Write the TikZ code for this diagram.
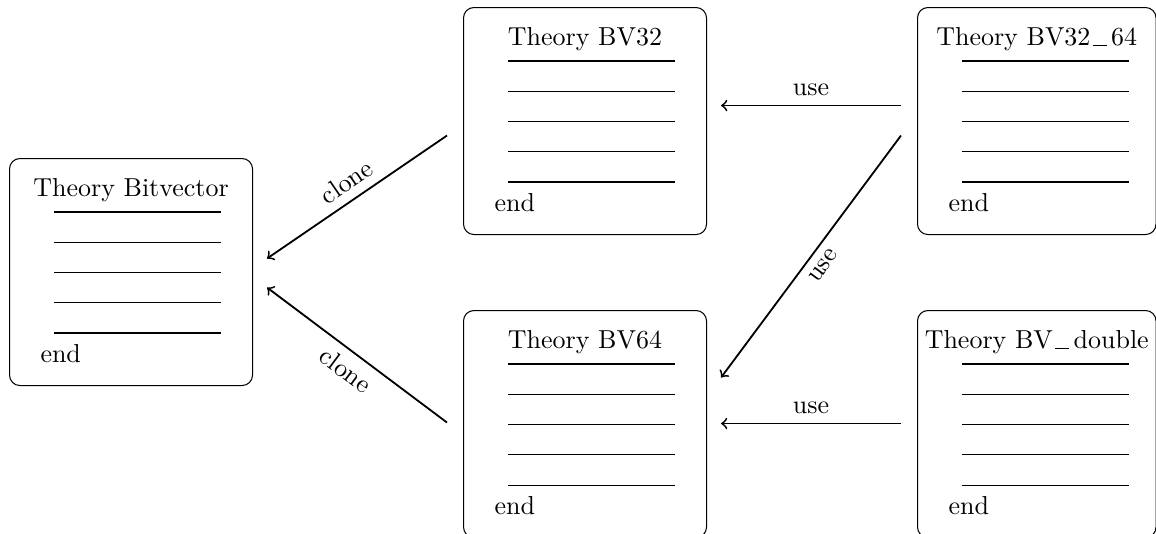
\documentclass[tikz,border=0pt]{standalone}
\usetikzlibrary{calc}

\tikzset{
  thy/.style={draw, rounded corners=4pt, line width=0.4pt, inner sep=0pt,
              minimum height=227*0.385pt},
  thytitle/.style={anchor=base, inner sep=0pt},
  thyend/.style={anchor=base west, inner sep=0pt},
  thyrule/.style={line width=0.4pt},
  link/.style={->, line width=0.7pt},
  lbl/.style={midway, sloped}
}

% underscore as a spaced baseline bar
\newcommand{\uscore}{\kern0.8pt\rule[-0.35pt]{5.4pt}{0.45pt}\kern1.8pt}

% theory box: name, left x, top y, width, title
\newcommand{\thybox}[5]{%
  \node[thy, minimum width=#4*0.385pt, anchor=north west] (#1) at (#2,#3) {};
  \node[thytitle] (#1-title) at ($(#1.north)+(0,38)$) {#5};
  \foreach \k in {0,...,4}
    \draw[thyrule] ($(#1.north west)+(45,54+30.25*\k)$) -- ++(167,0);
  \node[thyend] (#1-end) at ($(#1.north west)+(31,204)$) {end};
}

\begin{document}
\begin{tikzpicture}[x=0.385pt, y=-0.385pt]
  \useasboundingbox (0,0) rectangle (1156,533);

  \thybox{bitvector}{9}{158}{243}{Theory Bitvector}
  \thybox{bv32}{463}{7}{243}{Theory BV32}
  \thybox{bv64}{463}{310}{243}{Theory BV64}
  \thybox{bv3264}{917}{7}{238.5}{Theory BV32\uscore 64}
  \thybox{bvdouble}{917}{310}{238.5}{Theory BV\uscore double}

  % uses
  \draw[link] ($(bv3264.west)+(-16,-15.5)$) -- node[lbl, above] {use}
              ($(bv32.east)+(14,-15.5)$);
  \draw[link] ($(bv3264.west)+(-16,14.5)$) -- node[lbl, below] {use}
              ($(bv64.east)+(14,-46.5)$);
  \draw[link] ($(bvdouble.west)+(-16,-0.5)$) -- node[lbl, above] {use}
              ($(bv64.east)+(14,-0.5)$);

  % clones
  \draw[link] ($(bv32.west)+(-16,14.5)$) -- node[lbl, above] {clone}
              ($(bitvector.east)+(14,-13.5)$);
  \draw[link] ($(bv64.west)+(-16,-1.5)$) -- node[lbl, below] {clone}
              ($(bitvector.east)+(14,15.5)$);
\end{tikzpicture}
\end{document}
